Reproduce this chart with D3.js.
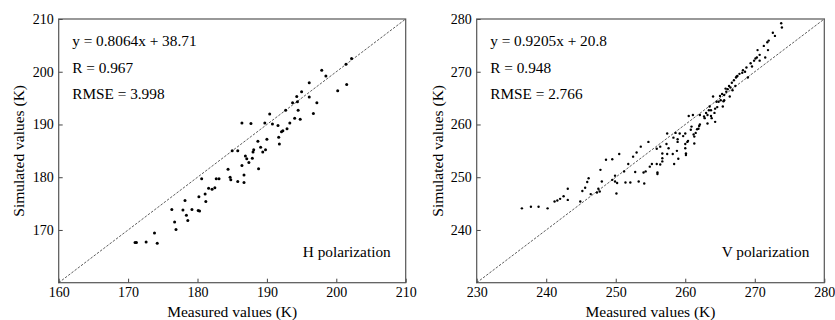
<!DOCTYPE html>
<html>
<head>
<meta charset="utf-8">
<script src="https://cdn.jsdelivr.net/npm/d3@7/dist/d3.min.js"></script>
<style>
  body { margin: 0; background: #fff; }
  svg text { font-family: "Liberation Serif", "Times New Roman", serif; fill: #000; }
</style>
</head>
<body>
<div id="chart"></div>
<script>
// H polarization: [measured, simulated]
const hPoints = [
  [171.0,167.6],[171.2,167.6],[172.6,167.7],[173.8,169.4],[174.2,167.5],[176.3,173.9],[176.7,171.5],
  [176.9,170.1],[177.9,173.8],[178.2,175.6],[178.4,172.8],[178.6,171.8],[179.2,173.9],[180.2,176.3],
  [180.1,173.7],[180.3,173.6],[180.6,179.7],[181.1,176.8],[181.2,175.4],[181.6,177.9],[182.1,177.7],
  [182.5,178.0],[182.7,179.7],[183.1,179.7],[184.4,181.5],[184.7,180.0],[184.8,179.5],[185.0,185.0],
  [185.8,185.0],[185.8,179.2],[186.4,190.3],[186.4,182.2],[186.7,180.4],[186.7,179.0],[186.9,184.0],
  [187.1,183.5],[187.4,182.8],[187.7,190.2],[187.9,183.6],[188.0,184.8],[188.1,185.2],[188.7,186.8],
  [188.8,181.6],[189.1,185.7],[189.4,184.8],[189.7,190.3],[189.8,185.2],[190.0,187.2],[190.4,192.0],
  [190.8,190.1],[191.6,189.8],[191.7,187.6],[191.8,186.3],[192.1,188.6],[192.3,188.8],[192.7,192.7],
  [192.9,189.2],[193.3,190.3],[193.7,194.1],[194.0,191.2],[194.3,195.3],[194.4,194.3],[194.5,192.7],
  [194.8,191.0],[195.0,196.2],[196.1,197.9],[196.1,195.2],[196.7,192.1],[197.2,194.1],[197.9,200.3],
  [198.5,199.2],[200.2,196.4],[201.4,201.4],[201.5,197.6],[202.2,202.5]
];

// V polarization: [measured, simulated]
const vPoints = [
  [236.5,244.1],[237.8,244.4],[238.9,244.4],[240.2,244.1],[241.2,245.4],[241.6,245.6],[242.0,245.9],
  [242.5,246.4],[243.1,247.8],[243.1,245.7],[244.9,245.4],[245.2,247.4],[245.6,248.0],[245.9,249.1],
  [246.1,249.8],[246.4,246.8],[247.3,247.1],[247.5,247.8],[247.7,247.3],[247.8,251.4],[248.0,249.2],
  [248.6,253.3],[249.5,249.5],[249.5,253.4],[249.9,250.3],[250.1,246.9],[249.9,249.2],[250.2,248.9],
  [250.5,254.4],[251.2,251.1],[251.4,249.0],[251.8,252.5],[252.1,249.0],[252.5,253.9],[252.8,251.0],
  [253.0,254.7],[253.3,249.2],[253.6,255.8],[254.0,250.9],[254.1,248.8],[254.3,251.1],[254.7,256.7],
  [254.9,252.0],[255.2,252.5],[255.9,255.4],[255.9,252.5],[256.0,250.9],[256.0,250.6],[256.4,252.4],
  [256.4,255.8],[256.7,254.5],[256.7,253.6],[256.7,253.0],[257.3,256.3],[257.4,258.3],[257.4,254.4],
  [257.6,255.5],[258.2,254.4],[258.3,257.5],[258.4,252.5],[258.6,258.4],[258.8,255.0],[258.9,256.7],
  [258.9,257.2],[259.0,253.5],[259.2,258.3],[259.7,257.8],[260.0,258.3],[260.0,256.3],[260.0,255.5],
  [260.1,254.5],[260.1,254.2],[260.3,256.7],[260.4,256.9],[260.5,261.6],[260.8,259.0],[260.9,259.6],
  [261.1,261.8],[261.2,258.1],[261.3,257.7],[261.3,256.4],[261.5,258.4],[261.7,259.1],[261.9,259.2],
  [262.0,259.7],[262.1,260.0],[262.1,261.8],[262.7,261.5],[262.8,261.2],[263.0,262.2],[263.2,260.2],
  [263.2,261.8],[263.4,262.7],[263.5,263.4],[263.7,262.7],[263.7,261.6],[263.8,261.2],[264.0,265.3],
  [264.2,262.2],[264.3,263.0],[264.3,260.5],[264.5,264.3],[264.6,263.3],[264.8,264.3],[265.0,265.4],
  [265.1,264.6],[265.3,265.8],[265.4,263.4],[265.5,264.4],[265.6,265.6],[265.6,264.6],[265.8,266.8],
  [265.9,266.2],[266.1,266.7],[266.3,267.3],[266.4,265.3],[266.5,267.0],[266.7,267.9],[266.8,266.5],
  [267.0,268.4],[267.2,267.3],[267.3,268.9],[267.4,269.1],[267.5,269.2],[267.8,269.6],[268.2,269.8],
  [268.3,270.3],[268.6,270.0],[268.8,270.8],[269.0,268.9],[269.4,271.6],[269.6,271.0],[269.9,272.1],
  [270.1,272.5],[270.3,272.7],[270.4,274.1],[270.7,273.2],[270.7,272.1],[271.3,274.9],[271.5,272.7],
  [271.8,275.6],[271.9,274.1],[272.0,275.9],[272.6,277.4],[272.9,276.8],[273.8,279.2],[273.9,278.4]
];

const hDomain = [160, 210];
const vDomain = [230, 280];
const hTicks = [160, 170, 180, 190, 200, 210];
const vTicks = [230, 240, 250, 260, 270, 280];
const hStats = ["y = 0.8064x + 38.71", "R = 0.967", "RMSE = 3.998"];
const vStats = ["y = 0.9205x + 20.8", "R = 0.948", "RMSE = 2.766"];
const xTitle = "Measured values (K)";
const yTitle = "Simulated values (K)";

const svg = d3.select("#chart").append("svg")
  .attr("width", 835)
  .attr("height", 320);

function drawPanel(opts) {
  const { left, top, w, h, domain, ticks, points, stats, label, r } = opts;
  const g = svg.append("g").attr("transform", `translate(${left},${top})`);

  const x = d3.scaleLinear().domain(domain).range([0, w]);
  const y = d3.scaleLinear().domain(domain).range([h, 0]);

  // x axis, ticks pointing inward
  const xAxis = g.append("g")
    .attr("transform", `translate(0,${h})`)
    .call(d3.axisBottom(x).tickValues(ticks).tickFormat(d3.format("d"))
      .tickSizeInner(-4).tickSizeOuter(0).tickPadding(4));

  // y axis, skip the lowest label (shared corner)
  const yAxis = g.append("g")
    .call(d3.axisLeft(y).tickValues(ticks.slice(1)).tickFormat(d3.format("d"))
      .tickSizeInner(-4).tickSizeOuter(0).tickPadding(5));

  [xAxis, yAxis].forEach(a => {
    a.select(".domain").remove();
    a.selectAll(".tick line").attr("stroke", "#444").attr("stroke-width", 1);
    a.selectAll(".tick text")
      .style("font-family", "'Liberation Serif', 'Times New Roman', serif")
      .style("font-size", "14px")
      .attr("fill", "#000");
  });

  // frame
  g.append("rect")
    .attr("x", 0).attr("y", 0)
    .attr("width", w).attr("height", h)
    .attr("fill", "none")
    .attr("stroke", "#555")
    .attr("stroke-width", 1.2);

  // 1:1 line
  g.append("line")
    .attr("x1", x(domain[0])).attr("y1", y(domain[0]))
    .attr("x2", x(domain[1])).attr("y2", y(domain[1]))
    .attr("stroke", "#333")
    .attr("stroke-width", 0.8)
    .attr("stroke-dasharray", "2.5,1.5");

  g.selectAll("circle.pt")
    .data(points)
    .join("circle")
    .attr("class", "pt")
    .attr("cx", d => x(d[0]))
    .attr("cy", d => y(d[1]))
    .attr("r", r)
    .attr("fill", "#000");

  // stats text
  g.selectAll("text.stat")
    .data(stats)
    .join("text")
    .attr("class", "stat")
    .attr("x", 13.5)
    .attr("y", (d, i) => 27 + i * 26.5)
    .style("font-size", "15.3px")
    .text(d => d);

  g.append("text")
    .attr("x", w - 15)
    .attr("y", 238)
    .attr("text-anchor", "end")
    .style("font-size", "15.3px")
    .text(label);

  g.append("text")
    .attr("x", w / 2)
    .attr("y", 297.5)
    .attr("text-anchor", "middle")
    .style("font-size", "15.5px")
    .text(xTitle);

  g.append("text")
    .attr("transform", `translate(${-left + opts.yTitleX},${h / 2}) rotate(-90)`)
    .attr("text-anchor", "middle")
    .style("font-size", "15.5px")
    .text(yTitle);
}

drawPanel({ left: 58.7, top: 19, w: 347, h: 263.7, domain: hDomain, ticks: hTicks,
  points: hPoints, stats: hStats, label: "H polarization", r: 1.5, yTitleX: 24 });
drawPanel({ left: 476.7, top: 19, w: 347.6, h: 263.7, domain: vDomain, ticks: vTicks,
  points: vPoints, stats: vStats, label: "V polarization", r: 1.2, yTitleX: 443 });
</script>
</body>
</html>
